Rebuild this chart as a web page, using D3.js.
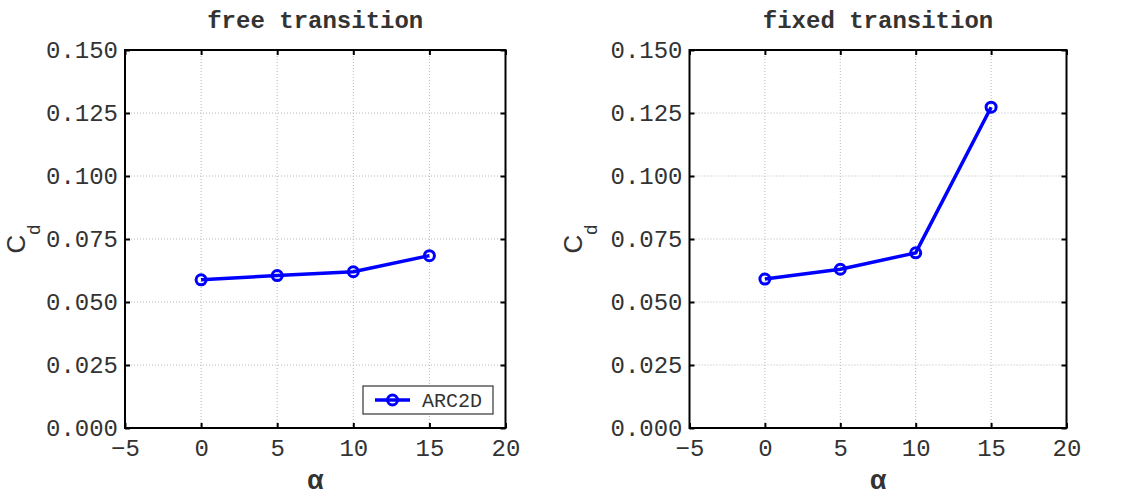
<!DOCTYPE html>
<html>
<head>
<meta charset="utf-8">
<script src="https://cdn.jsdelivr.net/npm/d3@7"></script>
<style>
  html, body { margin: 0; padding: 0; background: #fff; }
  svg { display: block; }
  text { font-family: "Liberation Mono", "DejaVu Sans Mono", monospace; fill: #333; }
</style>
</head>
<body>
<svg id="chart" width="1135" height="497"></svg>
<script>
// Angle of attack (deg) and drag coefficient from ARC2D
const alpha = [0, 5, 10, 15];
const cdFree = [0.0588, 0.0605, 0.0620, 0.0684];
const cdFixed = [0.0591, 0.0630, 0.0695, 0.1273];
const panelTitles = ["free transition", "fixed transition"];
const xTicks = [-5, 0, 5, 10, 15, 20];
const yTicks = [0, 0.025, 0.05, 0.075, 0.1, 0.125, 0.15];
const seriesName = "ARC2D";

const svg = d3.select("#chart");
const blue = "#0000ff";
const plotTop = 50, plotBottom = 428;

function panel(x0, x1, yLabelX, title, values, withLegend) {
  const x = d3.scaleLinear().domain([-5, 20]).range([x0, x1]);
  const y = d3.scaleLinear().domain([0, 0.15]).range([plotBottom, plotTop]);
  const g = svg.append("g");

  // dotted grid
  g.append("g").selectAll("line").data(xTicks.slice(1, -1)).join("line")
    .attr("x1", d => x(d)).attr("x2", d => x(d)).attr("y1", plotTop).attr("y2", plotBottom)
    .attr("stroke", "#b8b8b8").attr("stroke-width", 1).attr("stroke-dasharray", "1,2");
  g.append("g").selectAll("line").data(yTicks.slice(1, -1)).join("line")
    .attr("y1", d => y(d)).attr("y2", d => y(d)).attr("x1", x0).attr("x2", x1)
    .attr("stroke", "#b8b8b8").attr("stroke-width", 1).attr("stroke-dasharray", "1,2");

  // axes with inward ticks on all four sides
  const fmt = d3.format(".3f");
  const ax = (axis, tr) => {
    const a = g.append("g").attr("transform", tr).call(axis);
    a.select(".domain").remove();
    a.selectAll(".tick line").attr("stroke", "#000").attr("stroke-width", 2);
    return a;
  };
  const bx = ax(d3.axisBottom(x).tickValues(xTicks).tickSize(-5).tickPadding(11)
    .tickFormat(d => d < 0 ? "\u2212" + Math.abs(d) : d), `translate(0,${plotBottom})`);
  bx.selectAll("text").attr("font-size", 24).attr("fill", "#444").attr("font-family", "Liberation Mono");
  ax(d3.axisTop(x).tickValues(xTicks).tickSize(-5).tickFormat(""), `translate(0,${plotTop})`);
  const ly = ax(d3.axisLeft(y).tickValues(yTicks).tickSize(-5).tickPadding(7).tickFormat(fmt), `translate(${x0},0)`);
  ly.selectAll("text").attr("font-size", 24).attr("fill", "#444").attr("font-family", "Liberation Mono");
  ax(d3.axisRight(y).tickValues(yTicks).tickSize(-5).tickFormat(""), `translate(${x1},0)`);

  // frame
  g.append("rect").attr("x", x0).attr("y", plotTop).attr("width", x1 - x0).attr("height", plotBottom - plotTop)
    .attr("fill", "none").attr("stroke", "#000").attr("stroke-width", 2);

  // title
  g.append("text").attr("x", (x0 + x1) / 2).attr("y", 28).attr("text-anchor", "middle")
    .attr("font-size", 24).attr("font-weight", "bold").attr("fill", "#111").text(title);

  // axis labels
  g.append("text").attr("x", (x0 + x1) / 2).attr("y", 489).attr("text-anchor", "middle")
    .attr("font-family", "DejaVu Serif").attr("font-weight", "bold").attr("font-size", 27).attr("fill", "#111").text("\u03b1");
  const yl = g.append("text")
    .attr("transform", `translate(${yLabelX},${(plotTop + plotBottom) / 2}) rotate(-90)`)
    .attr("text-anchor", "middle").attr("fill", "#111");
  yl.append("tspan").attr("font-family", "Liberation Sans").attr("font-size", 26).text("C");
  yl.append("tspan").attr("font-family", "Liberation Sans").attr("font-size", 18).attr("dy", 15).text("d");

  // data series
  const pts = alpha.map((a, i) => [a, values[i]]);
  g.append("path").datum(pts)
    .attr("d", d3.line().x(d => x(d[0])).y(d => y(d[1])))
    .attr("fill", "none").attr("stroke", blue).attr("stroke-width", 3.5).attr("stroke-linejoin", "round");
  g.append("g").selectAll("circle").data(pts).join("circle")
    .attr("cx", d => x(d[0])).attr("cy", d => y(d[1])).attr("r", 5)
    .attr("fill", "none").attr("stroke", blue).attr("stroke-width", 3);

  if (withLegend) {
    const lg = g.append("g");
    lg.append("rect").attr("x", 363).attr("y", 386).attr("width", 130).attr("height", 28)
      .attr("fill", "#fff").attr("stroke", "#333").attr("stroke-width", 1.2);
    lg.append("line").attr("x1", 375).attr("x2", 410).attr("y1", 400).attr("y2", 400)
      .attr("stroke", blue).attr("stroke-width", 3.5);
    lg.append("circle").attr("cx", 392.5).attr("cy", 400).attr("r", 5)
      .attr("fill", "none").attr("stroke", blue).attr("stroke-width", 3);
    lg.append("text").attr("x", 422).attr("y", 407).attr("font-size", 20).attr("fill", "#888").text(seriesName);
  }
}

panel(125, 505.5, 25, panelTitles[0], cdFree, true);
panel(689.5, 1066.5, 582, panelTitles[1], cdFixed, false);
</script>
</body>
</html>
